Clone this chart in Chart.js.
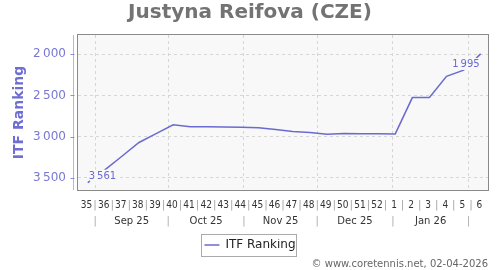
<!DOCTYPE html>
<html lang="en">
<head>
<meta charset="UTF-8">
<title>Justyna Reifova (CZE)</title>
<script src="https://cdn.jsdelivr.net/npm/chart.js"></script>
<style>
    html, body { margin: 0; padding: 0; background: #fff; }
    .chart-box { width: 500px; height: 270px; position: relative; }
</style>
</head>
<body>
<div class="chart-box"><canvas id="rankChart"></canvas></div>
<script>
    // ISO weeks 35 (2025) .. 6 (2026), one ranking per week
    const weekLabels = ['35','36','37','38','39','40','41','42','43','44','45','46','47','48',
                        '49','50','51','52','1','2','3','4','5','6'];
    const rankings = [3561, 3405, 3240, 3072, 2964, 2856, 2880, 2882, 2884, 2886, 2892, 2915,
                      2940, 2952, 2971, 2964, 2966, 2967, 2968, 2526, 2526, 2267, 2193, 1995];
    const monthLabels = ['Sep 25', 'Oct 25', 'Nov 25', 'Dec 25', 'Jan 26'];
    // first day of each month, counted in days from Mon 25 Aug 2025 (start of week 35)
    const monthStarts = [7, 37, 68, 98, 129, 160];
    const yTicks = [2000, 2500, 3000, 3500];

    const lineColor = '#6a6ad0';
    const totalDays = weekLabels.length * 7;

    function fmt(v) {
        return String(v).replace(/\B(?=(\d{3})+(?!\d))/g, '\u2009');
    }

    const points = rankings.map((r, i) => ({ x: i * 7 + 4, y: r }));

    // week row: label in the middle of the week, "|" between weeks
    const weekTicks = [];
    weekLabels.forEach((w, i) => {
        weekTicks.push({ value: i * 7 + 3.5, label: w, sep: false });
        if (i > 0) weekTicks.push({ value: i * 7, label: '|', sep: true });
    });
    weekTicks.sort((a, b) => a.value - b.value);

    // month row: "|" at month starts (with grid line), month name in between
    const monthTicks = [];
    monthStarts.forEach((d, i) => {
        monthTicks.push({ value: d, label: '|', sep: true });
        if (i < monthLabels.length) {
            monthTicks.push({ value: (d + monthStarts[i + 1]) / 2, label: monthLabels[i], sep: false });
        }
    });

    const plotFrame = {
        id: 'plotFrame',
        beforeDraw(chart) {
            const { ctx, chartArea: a } = chart;
            ctx.save();
            ctx.fillStyle = '#f8f8f8';
            ctx.fillRect(a.left, a.top, a.right - a.left, a.bottom - a.top);
            ctx.restore();
        },
        afterDraw(chart) {
            const { ctx, chartArea: a } = chart;
            ctx.save();
            ctx.strokeStyle = '#8a8a8a';
            ctx.lineWidth = 1;
            ctx.strokeRect(a.left - 0.5, a.top - 0.5, a.right - a.left + 1, a.bottom - a.top + 1);
            // y axis line sits a little left of the plot box
            const y = chart.scales.y;
            const ax = Math.round(a.left - 5) + 0.5;
            ctx.strokeStyle = '#b4b4e6';
            ctx.beginPath();
            ctx.moveTo(ax, a.top);
            ctx.lineTo(ax, a.bottom);
            ctx.stroke();
            ctx.strokeStyle = '#8c8cd8';
            yTicks.forEach(v => {
                const py = Math.round(y.getPixelForValue(v)) + 0.5;
                ctx.beginPath();
                ctx.moveTo(ax - 3, py);
                ctx.lineTo(ax + 1, py);
                ctx.stroke();
            });
            // frame round the legend
            const hb = chart.legend.legendHitBoxes[0];
            if (hb) {
                ctx.strokeStyle = '#aaa';
                ctx.strokeRect(Math.round(hb.left - 3) + 0.5, Math.round(hb.top - 5) + 0.5,
                               Math.round(hb.width + 4), 22);
            }
            ctx.restore();
        }
    };

    const endLabels = {
        id: 'endLabels',
        afterDatasetsDraw(chart) {
            const { ctx } = chart;
            const pts = chart.getDatasetMeta(0).data;
            const first = pts[0], last = pts[pts.length - 1];
            ctx.save();
            ctx.font = '10px "DejaVu Sans"';
            ctx.textBaseline = 'middle';
            // first value: above right of the point
            let t = fmt(rankings[0]);
            let w = ctx.measureText(t).width;
            ctx.fillStyle = '#f8f8f8';
            ctx.fillRect(first.x + 2, first.y - 13, w + 1, 12);
            ctx.fillStyle = lineColor;
            ctx.textAlign = 'left';
            ctx.fillText(t, first.x + 1, first.y - 6.5);
            // last value: below left of the point
            t = fmt(rankings[rankings.length - 1]);
            w = ctx.measureText(t).width;
            ctx.fillStyle = '#f8f8f8';
            ctx.fillRect(last.x - w - 1, last.y + 4, w, 12);
            ctx.fillStyle = lineColor;
            ctx.textAlign = 'right';
            ctx.fillText(t, last.x - 1, last.y + 10);
            ctx.restore();
        }
    };

    const ctx = document.getElementById('rankChart').getContext('2d');
    new Chart(ctx, {
        type: 'line',
        data: {
            datasets: [{
                label: 'ITF Ranking',
                data: points,
                borderColor: lineColor,
                backgroundColor: lineColor,
                borderWidth: 1.5,
                pointRadius: 0,
                tension: 0,
                fill: false
            }]
        },
        options: {
            responsive: true,
            maintainAspectRatio: false,
            animation: false,
            layout: { padding: 0 },
            plugins: {
                title: {
                    display: true,
                    text: 'Justyna Reifova (CZE)',
                    color: '#737373',
                    font: { family: 'DejaVu Sans', size: 20, weight: 'bold' },
                    padding: { top: 1, bottom: 10 }
                },
                subtitle: {
                    display: true,
                    position: 'bottom',
                    align: 'end',
                    fullSize: false,
                    text: '\u00a9 www.coretennis.net, 02-04-2026',
                    color: '#666',
                    font: { family: 'DejaVu Sans', size: 10, lineHeight: 0.6 },
                    padding: { top: 0, bottom: 3 }
                },
                legend: {
                    position: 'bottom',
                    labels: {
                        usePointStyle: true,
                        pointStyle: 'line',
                        pointStyleWidth: 15,
                        padding: 0,
                        color: '#222',
                        font: { family: 'DejaVu Sans', size: 12 }
                    }
                },
                tooltip: { enabled: false }
            },
            scales: {
                x: {
                    type: 'linear',
                    position: 'bottom',
                    weight: 0,
                    min: 0,
                    max: totalDays,
                    afterBuildTicks: s => { s.ticks = weekTicks.map(t => ({ value: t.value })); },
                    afterFit: s => { s.height = 23; },
                    ticks: {
                        autoSkip: false,
                        maxRotation: 0,
                        padding: 9,
                        color: c => (weekTicks[c.index] && weekTicks[c.index].sep) ? '#999' : '#333',
                        font: { family: '"DejaVu Sans Condensed", "DejaVu Sans"', size: 10 },
                        callback: (v, i) => weekTicks[i].label
                    },
                    grid: { display: false, drawTicks: false },
                    border: { display: false }
                },
                xm: {
                    type: 'linear',
                    position: 'bottom',
                    weight: 1,
                    min: 0,
                    max: totalDays,
                    afterBuildTicks: s => { s.ticks = monthTicks.map(t => ({ value: t.value })); },
                    afterFit: s => { s.height = 26; },
                    ticks: {
                        autoSkip: false,
                        maxRotation: 0,
                        padding: 2,
                        color: c => (monthTicks[c.index] && monthTicks[c.index].sep) ? '#aaa' : '#333',
                        font: { family: 'DejaVu Sans', size: 10 },
                        callback: (v, i) => monthTicks[i].label
                    },
                    grid: {
                        drawTicks: false,
                        color: c => (monthTicks[c.index] && monthTicks[c.index].sep) ? '#d6d6d6' : 'rgba(0,0,0,0)'
                    },
                    border: { display: false, dash: [3, 3] }
                },
                y: {
                    reverse: true,
                    min: 1765,
                    max: 3650,
                    afterBuildTicks: s => { s.ticks = yTicks.map(v => ({ value: v })); },
                    afterFit: s => { s.width = 78; },
                    ticks: {
                        padding: 12,
                        color: '#7878d4',
                        font: { family: 'DejaVu Sans', size: 12 },
                        callback: v => fmt(v)
                    },
                    grid: { color: '#d6d6d6', drawTicks: false },
                    border: { display: false, dash: [3, 3] },
                    title: {
                        display: true,
                        text: 'ITF Ranking',
                        color: '#6e6ed2',
                        font: { family: 'DejaVu Sans', size: 14, weight: 'bold' },
                        padding: { top: 11, bottom: 0 }
                    }
                },
                // empty strip on the right so the plot box ends where the original does
                yr: {
                    position: 'right',
                    afterFit: s => { s.width = 12; },
                    ticks: { display: false },
                    grid: { display: false },
                    border: { display: false }
                }
            }
        },
        plugins: [plotFrame, endLabels]
    });
</script>
</body>
</html>
